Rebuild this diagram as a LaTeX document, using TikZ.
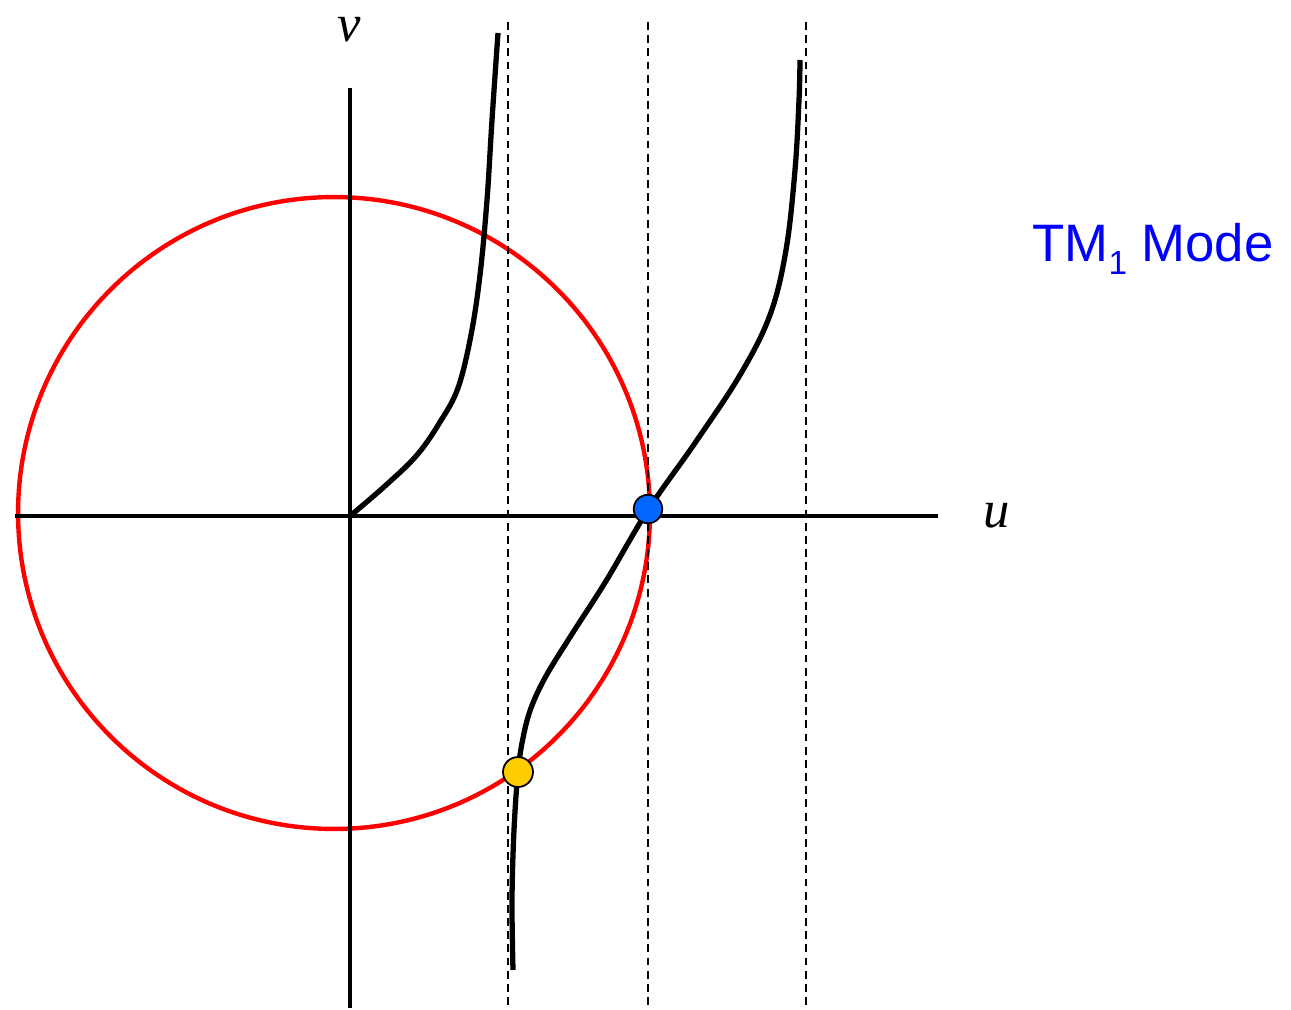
\documentclass[tikz,border=0pt]{standalone}
\usepackage{fontspec}
\setmainfont{Liberation Serif}
\newfontfamily\labelsans{Liberation Sans}
\usetikzlibrary{positioning}
\definecolor{dotblue}{RGB}{0,102,255}
\definecolor{dotyellow}{RGB}{255,204,0}
\definecolor{modeblue}{RGB}{0,0,255}

\begin{document}
\begin{tikzpicture}[
    x=0.02cm, y=-0.02cm,
    axis/.style={line width=2.8pt},
    asym/.style={dash pattern=on 4.5pt off 3pt, line width=0.8pt},
    branch/.style={line width=3pt, line join=round, line cap=butt},
    disk/.style={circle, draw, line width=1pt, inner sep=0pt, minimum size=0.57cm},
    axlabel/.style={font=\fontsize{30}{34}\selectfont\itshape, inner sep=0pt}
]
\useasboundingbox (0,0) rectangle (1291,1010);

% circle u^2+v^2=R^2
\draw[red, line width=2.5pt] (334,513) circle (6.32cm);

% axes
\draw[axis] (15,516) -- (938,516);
\draw[axis] (350,88) -- (350,1008);
\node[axlabel] (vlab) at (349,30) {v};
\node[axlabel] (ulab) at (997,516) {u};

% asymptotes
\foreach \xa in {508,648,806}
    \draw[asym] (\xa,22) -- (\xa,1005);

% branches
\draw[branch] plot[smooth, tension=0.6] coordinates {
    (350,516) (385,486) (417,455) (440,422) (458,388) (471,335)
    (480,275) (487,200) (492,120) (498,33)};
\draw[branch] plot[smooth, tension=0.6] coordinates {
    (513,970) (512,900) (514,830) (518,772) (523,738) (531,708)
    (546,676) (572,634) (606,581) (648,510) (695,443) (740,375) (770,315)
    (786,250) (795,170) (799,100) (800,60)};

% intersections
\node[disk, fill=dotblue] (p1) at (648,509) {};
\node[disk, fill=dotyellow, minimum size=0.6cm] (p2) at (518,772) {};

\node[font=\labelsans\fontsize{30}{36}\selectfont, text=modeblue, inner sep=0pt] (mode) at (1153,249)
    {TM\raisebox{-0.45ex}{\fontsize{19}{20}\selectfont 1} Mode};
\end{tikzpicture}
\end{document}
